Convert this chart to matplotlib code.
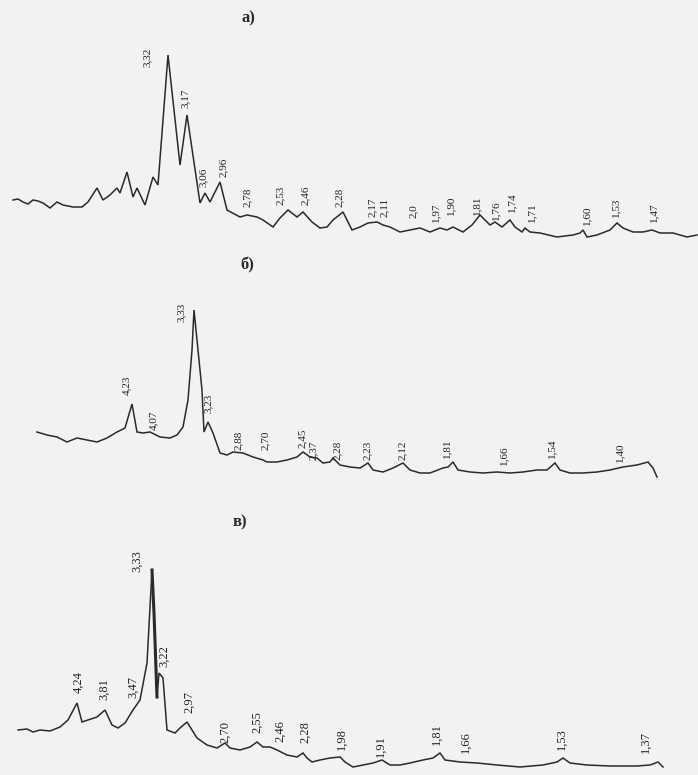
import matplotlib.pyplot as plt

# --- панель а) ---
xa = [13, 18, 23, 28, 33, 38, 43, 50, 57, 63, 73, 82, 88, 97, 103, 110, 117, 120, 127, 133,
      137, 145, 153, 158, 168, 180, 187, 200, 205, 210, 220, 227, 240, 247, 257, 263, 273, 280,
      288, 297, 303, 312, 320, 327, 333, 343, 347, 352, 360, 368, 377, 383, 390, 400, 410, 420,
      430, 440, 447, 453, 463, 472, 480, 490, 495, 502, 510, 515, 522, 525, 530, 540, 557, 573,
      580, 583, 587, 597, 610, 617, 623, 633, 643, 652, 660, 673, 687, 697]
ia = [45, 46, 43, 41, 45, 44, 42, 37, 43, 40, 38, 38, 43, 57, 45, 50, 57, 52, 73, 48,
      57, 40, 68, 60, 190, 80, 130, 42, 52, 43, 63, 35, 28, 30, 28, 25, 18, 27,
      35, 28, 33, 23, 17, 18, 25, 33, 25, 15, 18, 22, 23, 20, 18, 13, 15, 17,
      13, 17, 15, 18, 13, 20, 30, 20, 23, 18, 25, 18, 13, 17, 13, 12, 8, 10,
      12, 15, 8, 10, 15, 22, 17, 13, 13, 15, 12, 12, 8, 10]
lab_a = ["3,32", "3,17", "3,06", "2,96", "2,78", "2,53", "2,46", "2,28", "2,17", "2,11", "2,0",
         "1,97", "1,90", "1,81", "1,76", "1,74", "1,71", "1,60", "1,53", "1,47"]
lab_a_x = [147, 185, 203, 223, 247, 280, 305, 339, 372, 384, 413, 436, 451, 477, 496, 512,
           532, 587, 616, 654]
lab_a_i = [178, 137, 58, 68, 38, 40, 40, 38, 28, 28, 27, 23, 30, 30, 25, 33, 23, 20, 28, 23]

# --- панель б) ---
xb = [37, 47, 57, 67, 77, 87, 97, 107, 117, 125, 132, 137, 143, 150, 160, 170, 177, 183, 188,
      192, 194, 198, 202, 204, 208, 213, 220, 227, 233, 243, 253, 263, 267, 277, 287, 297, 303,
      310, 317, 323, 330, 333, 340, 350, 360, 368, 373, 383, 393, 403, 410, 420, 430, 443, 448,
      453, 458, 470, 483, 497, 510, 523, 537, 547, 555, 560, 570, 583, 597, 610, 623, 637, 648,
      653, 657]
ib = [53, 50, 48, 43, 47, 45, 43, 47, 53, 57, 81, 53, 52, 53, 48, 47, 50, 58, 85,
      135, 175, 135, 95, 53, 63, 52, 32, 30, 33, 32, 28, 25, 23, 23, 25, 28, 33,
      28, 27, 22, 23, 27, 20, 18, 17, 22, 15, 13, 17, 22, 15, 12, 12, 17, 18,
      23, 15, 13, 12, 13, 12, 13, 15, 15, 22, 15, 12, 12, 13, 15, 18, 20, 23,
      17, 8]
lab_b = ["4,23", "4,07", "3,33", "3,23", "2,88", "2,70", "2,45", "2,37", "2,28", "2,23",
         "2,12", "1,81", "1,66", "1,54", "1,40"]
lab_b_x = [127, 154, 181, 208, 238, 265, 302, 313, 337, 367, 402, 447, 504, 552, 620]
lab_b_i = [90, 55, 163, 72, 35, 35, 37, 25, 25, 25, 25, 27, 20, 27, 23]

# --- панель в) ---
xc = [18, 27, 33, 40, 50, 60, 68, 77, 82, 88, 97, 105, 112, 118, 125, 133, 140, 147, 152,
      154, 157, 159, 163, 167, 175, 180, 187, 192, 197, 207, 217, 225, 230, 240, 250, 257, 263,
      270, 277, 287, 297, 303, 307, 312, 320, 330, 340, 345, 353, 363, 373, 382, 390, 400, 410,
      423, 433, 440, 445, 460, 477, 497, 520, 543, 557, 563, 570, 587, 610, 637, 650, 658, 663]
ic = [45, 46, 43, 45, 44, 48, 55, 72, 53, 55, 58, 65, 50, 47, 52, 65, 75, 112, 205,
      162, 78, 102, 97, 45, 42, 47, 53, 45, 37, 30, 27, 32, 27, 25, 28, 33, 28,
      28, 25, 20, 18, 22, 17, 13, 15, 17, 18, 13, 8, 10, 12, 15, 10, 10, 12,
      15, 17, 22, 15, 13, 12, 10, 8, 10, 13, 17, 12, 10, 9, 9, 10, 13, 8]
lab_c = ["4,24", "3,81", "3,47", "3,33", "3,22", "2,97", "2,70", "2,55", "2,46", "2,28",
         "1,98", "1,91", "1,81", "1,66", "1,53", "1,37"]
lab_c_x = [78, 104, 133, 137, 164, 189, 225, 257, 280, 305, 342, 381, 437, 466, 562, 646]
lab_c_i = [82, 75, 77, 203, 108, 62, 32, 42, 33, 32, 25, 18, 30, 22, 25, 22]

titles = ["а)", "б)", "в)"]

W, H = 698, 775
bg = '#f2f2f0'
ink = '#2a2a2a'

fig = plt.figure(figsize=(W / 100, H / 100), dpi=100, facecolor=bg)

# (верх, низ) каждой панели в пикселях
panels = [
    (40, 245, xa, ia, lab_a, lab_a_x, lab_a_i, 8, (248, 18)),
    (280, 485, xb, ib, lab_b, lab_b_x, lab_b_i, 8, (247, 265)),
    (530, 775, xc, ic, lab_c, lab_c_x, lab_c_i, 9, (240, 522)),
]

for k, (top, bot, x, y, labs, lx, li, fs, tpos) in enumerate(panels):
    ax = fig.add_axes([0, (H - bot) / H, 1, (bot - top) / H])
    ax.set_xlim(0, W)
    ax.set_ylim(0, bot - top)
    ax.axis('off')
    ax.plot(x, y, color=ink, lw=1.1, solid_joinstyle='miter')
    if k == 2:
        # жирный штрих главного пика
        ax.plot(x[18:21], y[18:21], color=ink, lw=2.2)
    for t, xx, ii in zip(labs, lx, li):
        ax.text(xx, ii, t, rotation=90, ha='center', va='bottom', fontsize=fs,
                family='Liberation Serif', color='#222222')
    fig.text(tpos[0] / W, 1 - tpos[1] / H, titles[k], ha='center', va='center',
             fontsize=12, fontweight='bold', family='Liberation Serif', color=ink)

fig.savefig('out.png', dpi=100, facecolor=bg)
